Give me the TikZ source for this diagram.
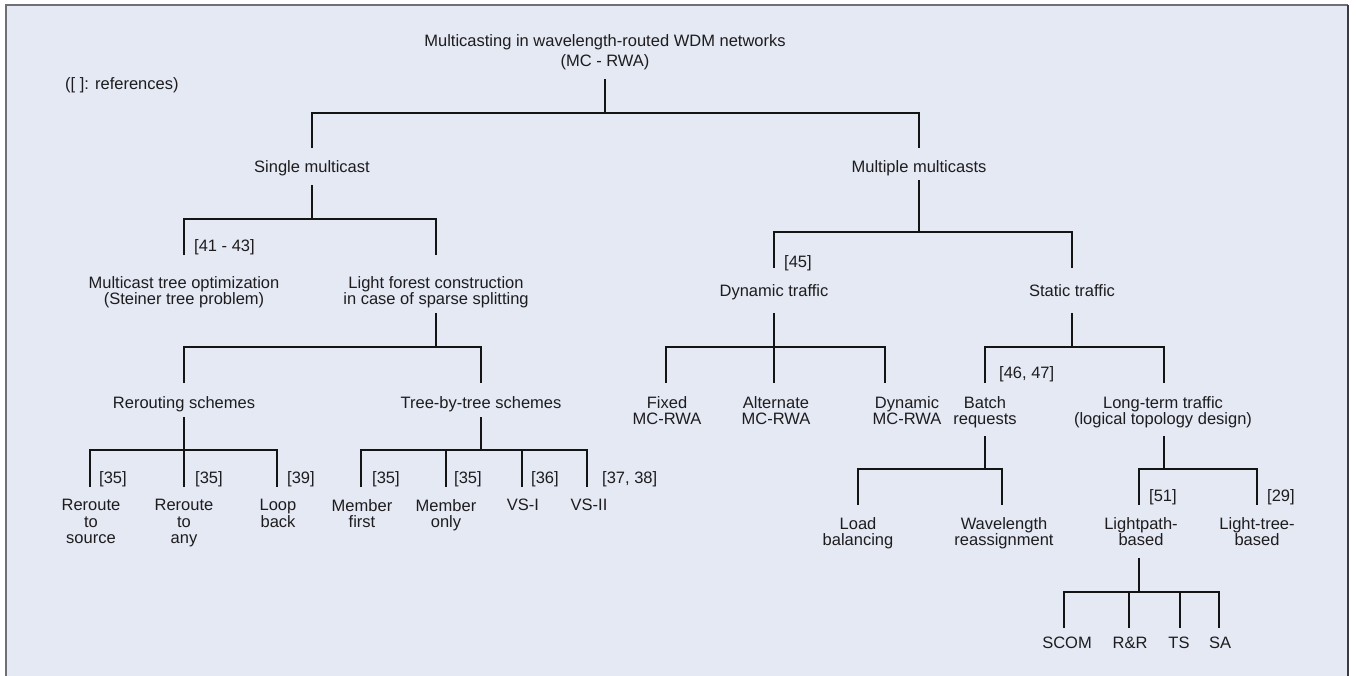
\documentclass[tikz,border=0pt]{standalone}
\usepackage{fontspec}
\setmainfont{Liberation Sans}
\definecolor{panel}{RGB}{228,233,244}
\definecolor{rim}{RGB}{112,112,116}
\definecolor{rimdark}{RGB}{60,60,64}
\definecolor{ink}{RGB}{30,28,30}
\newcommand\lblfont{\fontsize{16.5}{16.5}\selectfont}
\newcommand\titlefont{\fontsize{16.5}{20}\selectfont}
\tikzset{
  lbl/.style={font=\lblfont, align=center, inner sep=0pt, text=ink, anchor=north},
  cite/.style={font=\lblfont, inner sep=0pt, text=ink, anchor=base west},
  conn/.style={line width=1.4pt, draw=black!92}
}
\begin{document}
\begin{tikzpicture}[x=1pt,y=-1pt]
\useasboundingbox (0,0) rectangle (1356,675);
% panel
\fill[white] (0,0) rectangle (1356,675);
\fill[panel] (6,5) rectangle (1348,680);
\draw[rim, line width=2pt] (6,680) -- (6,5) -- (1348,5);
\draw[rimdark, line width=1.5pt] (1348,5) -- (1348,680);

% ---------- texts ----------
\node[lbl, font=\titlefont] (root) at (605,34) {Multicasting in wavelength-routed WDM networks\\(MC - RWA)};
\node[cite] (legend) at (65,89) {([ ]: references)};

\node[lbl] (single) at (312,160) {Single multicast};
\node[lbl] (multi) at (919,160) {Multiple multicasts};

\node[lbl] (mto) at (184,276) {Multicast tree optimization\\(Steiner tree problem)};
\node[lbl] (lfc) at (436,276) {Light forest construction\\in case of sparse splitting};
\node[cite] (c4143) at (194,251) {[41 - 43]};

\node[lbl] (rer) at (184,396) {Rerouting schemes};
\node[lbl] (tbt) at (481,396) {Tree-by-tree schemes};

\node[lbl] (rts) at (91,499) {Reroute\\to\\source};
\node[lbl] (rta) at (184,499) {Reroute\\to\\any};
\node[lbl] (lb) at (278,499) {Loop\\back};
\node[lbl] (mf) at (362,499) {Member\\first};
\node[lbl] (mo) at (446,499) {Member\\only};
\node[lbl] (vs1) at (523,499) {VS-I};
\node[lbl] (vs2) at (589,499) {VS-II};
\node[cite] (c35a) at (99,483) {[35]};
\node[cite] (c35b) at (195,483) {[35]};
\node[cite] (c39) at (287,483) {[39]};
\node[cite] (c35c) at (372,483) {[35]};
\node[cite] (c35d) at (454,483) {[35]};
\node[cite] (c36) at (531,483) {[36]};
\node[cite] (c3738) at (602,483) {[37, 38]};

\node[lbl] (dyn) at (774,284) {Dynamic traffic};
\node[lbl] (stat) at (1072,284) {Static traffic};
\node[cite] (c45) at (784,267) {[45]};

\node[lbl] (fix) at (667,396) {Fixed\\MC-RWA};
\node[lbl] (alt) at (776,396) {Alternate\\MC-RWA};
\node[lbl] (dmc) at (907,396) {Dynamic\\MC-RWA};
\node[lbl] (batch) at (985,396) {Batch\\requests};
\node[lbl] (long) at (1163,396) {Long-term traffic\\(logical topology design)};
\node[cite] (c4647) at (999,378) {[46, 47]};

\node[lbl] (load) at (858,517) {Load\\balancing};
\node[lbl] (wave) at (1004,517) {Wavelength\\reassignment};
\node[lbl] (lp) at (1141,517) {Lightpath-\\based};
\node[lbl] (lt) at (1257,517) {Light-tree-\\based};
\node[cite] (c51) at (1149,501) {[51]};
\node[cite] (c29) at (1267,501) {[29]};

\node[lbl] (scom) at (1067,637) {SCOM};
\node[lbl] (rr) at (1130,637) {R\&R};
\node[lbl] (ts) at (1179,637) {TS};
\node[lbl] (sa) at (1220,637) {SA};

% ---------- connector ends ----------
\coordinate (root-o) at (605,79);
\coordinate (single-i) at (312,148);
\coordinate (multi-i) at (919,148);
\coordinate (single-o) at (312,185);
\coordinate (mto-i) at (184,255);
\coordinate (lfc-i) at (436,255);
\coordinate (lfc-o) at (436,313);
\coordinate (rer-i) at (184,383);
\coordinate (tbt-i) at (481,383);
\coordinate (rer-o) at (184,417);
\coordinate (rts-i) at (90,487);
\coordinate (rta-i) at (184,487);
\coordinate (lb-i) at (277,487);
\coordinate (tbt-o) at (481,417);
\coordinate (mf-i) at (361,487);
\coordinate (mo-i) at (446,487);
\coordinate (vs1-i) at (522,487);
\coordinate (vs2-i) at (587,487);
\coordinate (multi-o) at (919,180);
\coordinate (dyn-i) at (774,268);
\coordinate (stat-i) at (1072,268);
\coordinate (dyn-o) at (774,313);
\coordinate (fix-i) at (666,383);
\coordinate (alt-i) at (774,383);
\coordinate (dmc-i) at (885,383);
\coordinate (stat-o) at (1072,313);
\coordinate (batch-i) at (985,383);
\coordinate (long-i) at (1164,383);
\coordinate (batch-o) at (985,436);
\coordinate (load-i) at (858,505);
\coordinate (wave-i) at (1002,505);
\coordinate (long-o) at (1164,436);
\coordinate (lp-i) at (1139,505);
\coordinate (lt-i) at (1257,505);
\coordinate (lp-o) at (1139,558);
\coordinate (scom-i) at (1064,628);
\coordinate (rr-i) at (1129,628);
\coordinate (ts-i) at (1180,628);
\coordinate (sa-i) at (1219,628);

% ---------- connectors ----------
\draw[conn] (root-o) -- ++(0,34) -| (single-i);
\draw[conn] (root-o) -- ++(0,34) -| (multi-i);

\draw[conn] (single-o) -- ++(0,34) -| (mto-i);
\draw[conn] (single-o) -- ++(0,34) -| (lfc-i);

\draw[conn] (lfc-o) -- ++(0,34) -| (rer-i);
\draw[conn] (lfc-o) -- ++(0,34) -| (tbt-i);

\draw[conn] (rer-o) -- ++(0,33) -| (rts-i);
\draw[conn] (rer-o) -- (rta-i);
\draw[conn] (rer-o) -- ++(0,33) -| (lb-i);

\draw[conn] (tbt-o) -- ++(0,33) -| (mf-i);
\draw[conn] (tbt-o) -- ++(0,33) -| (mo-i);
\draw[conn] (tbt-o) -- ++(0,33) -| (vs1-i);
\draw[conn] (tbt-o) -- ++(0,33) -| (vs2-i);

\draw[conn] (multi-o) -- ++(0,52) -| (dyn-i);
\draw[conn] (multi-o) -- ++(0,52) -| (stat-i);

\draw[conn] (dyn-o) -- ++(0,34) -| (fix-i);
\draw[conn] (dyn-o) -- (alt-i);
\draw[conn] (dyn-o) -- ++(0,34) -| (dmc-i);

\draw[conn] (stat-o) -- ++(0,34) -| (batch-i);
\draw[conn] (stat-o) -- ++(0,34) -| (long-i);

\draw[conn] (batch-o) -- ++(0,33) -| (load-i);
\draw[conn] (batch-o) -- ++(0,33) -| (wave-i);

\draw[conn] (long-o) -- ++(0,33) -| (lp-i);
\draw[conn] (long-o) -- ++(0,33) -| (lt-i);

\draw[conn] (lp-o) -- ++(0,34) -| (scom-i);
\draw[conn] (lp-o) -- ++(0,34) -| (rr-i);
\draw[conn] (lp-o) -- ++(0,34) -| (ts-i);
\draw[conn] (lp-o) -- ++(0,34) -| (sa-i);
\end{tikzpicture}
\end{document}
